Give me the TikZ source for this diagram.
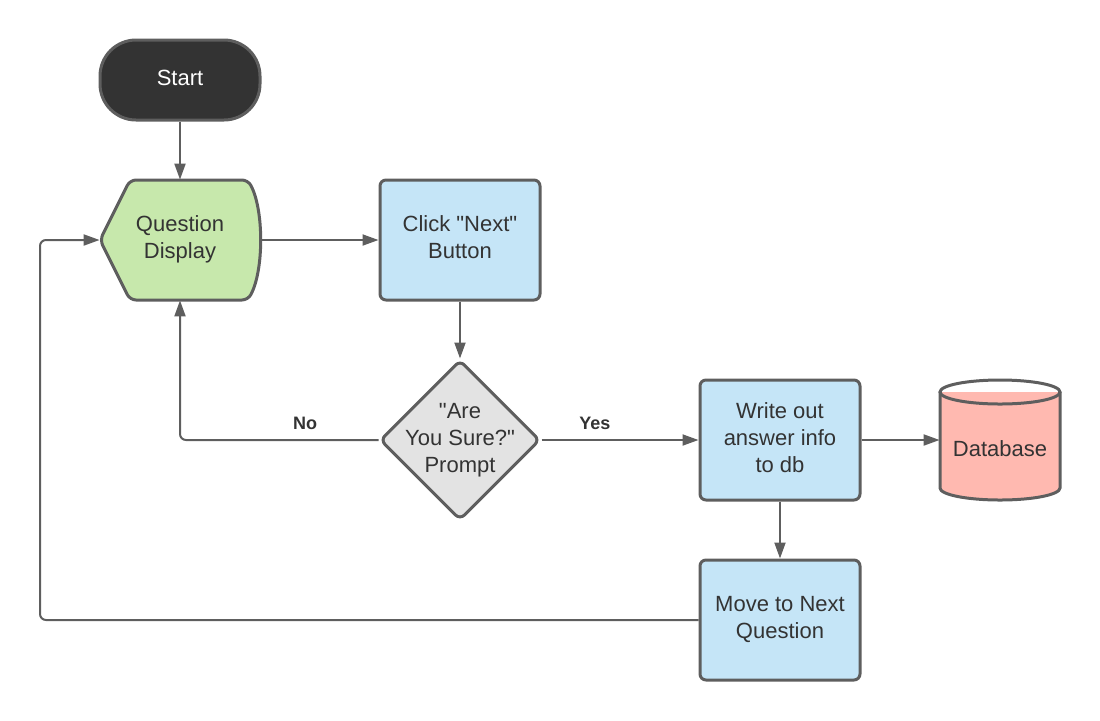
\documentclass[tikz,border=0pt]{standalone}
\usepackage{fontspec}
\setmainfont{Liberation Sans}
\usetikzlibrary{arrows.meta,shapes.geometric}
\definecolor{edge}{HTML}{5E5E5E}
\definecolor{txt}{HTML}{333333}
\definecolor{startfill}{HTML}{333333}
\definecolor{dispfill}{HTML}{C7E8AC}
\definecolor{procfill}{HTML}{C5E5F7}
\definecolor{askfill}{HTML}{E3E3E3}
\definecolor{dbfill}{HTML}{FFB9B0}

\begin{document}
\begin{tikzpicture}[x=0.5pt,y=-0.5pt,
  every node/.style={font=\fontsize{11}{13.5}\selectfont, text=txt, align=center, text depth=2.5pt},
  box/.style={draw=edge, line width=1.5pt, fill=procfill, rounded corners=3pt, minimum width=80pt, minimum height=60pt},
  flow/.style={draw=edge, line width=1pt, rounded corners=3pt, -{Triangle[length=8pt,width=5.5pt]}},
  lbl/.style={font=\bfseries\fontsize{9}{10}\selectfont, inner sep=0pt, text depth=0pt}]
  \useasboundingbox (0,0) rectangle (1100,720);

  \node[box, fill=startfill, rounded corners=18pt, minimum height=40pt, text=white] (start) at (180,80) {Start};

  \draw[draw=edge, line width=1.5pt, fill=dispfill, rounded corners=3pt]
    (100,240) -- (130,180) -- (248,180) .. controls (264,210) and (264,270) .. (248,300) -- (130,300) -- cycle;
  \node[minimum width=80pt, minimum height=60pt, inner sep=0pt] (disp) at (180,240) {Question\\Display};

  \node[box] (next) at (460,240) {Click \textquotedbl Next\textquotedbl\\Button};

  \node[draw=edge, line width=1.5pt, fill=askfill, diamond, aspect=1, inner sep=0pt, minimum size=80pt, rounded corners=3pt,
    label={center:{\textquotedbl Are\\You Sure?\textquotedbl\\Prompt}}] (ask) at (460,440) {};

  \node[box] (write) at (780,440) {Write out\\answer info\\to db};
  \node[box] (move) at (780,620) {Move to Next\\Question};

  \fill[dbfill] (940,392) -- (940,488) arc[start angle=180, end angle=360, x radius=30pt, y radius=6pt] -- (1060,392) -- cycle;
  \draw[edge, line width=1.5pt] (1000,392) ellipse [x radius=30pt, y radius=6pt];
  \draw[edge, line width=1.5pt] (940,392) -- (940,488) arc[start angle=180, end angle=360, x radius=30pt, y radius=6pt] -- (1060,392);
  \node[minimum width=60pt, minimum height=60pt, inner sep=0pt, label={[yshift=-5.5pt]center:Database}] (db) at (1000,440) {};

  \coordinate (back) at (40,240);

  \draw[flow] (start) -- (disp);
  \draw[flow] (disp.east) -- (next.west);
  \draw[flow] (next) -- (ask);
  \draw[flow] (ask.west) -- node[lbl, above=5pt, pos=0.37] {No} (disp.south |- ask.west) -- (disp.south);
  \draw[flow] (ask.east) -- node[lbl, above=5pt, pos=0.34] {Yes} (write.west);
  \draw[flow] (write.east) -- (db.west);
  \draw[flow] (write) -- (move);
  \draw[flow] (move.west) -- (move.west -| back) -- (back) -- (disp.west);
\end{tikzpicture}
\end{document}
